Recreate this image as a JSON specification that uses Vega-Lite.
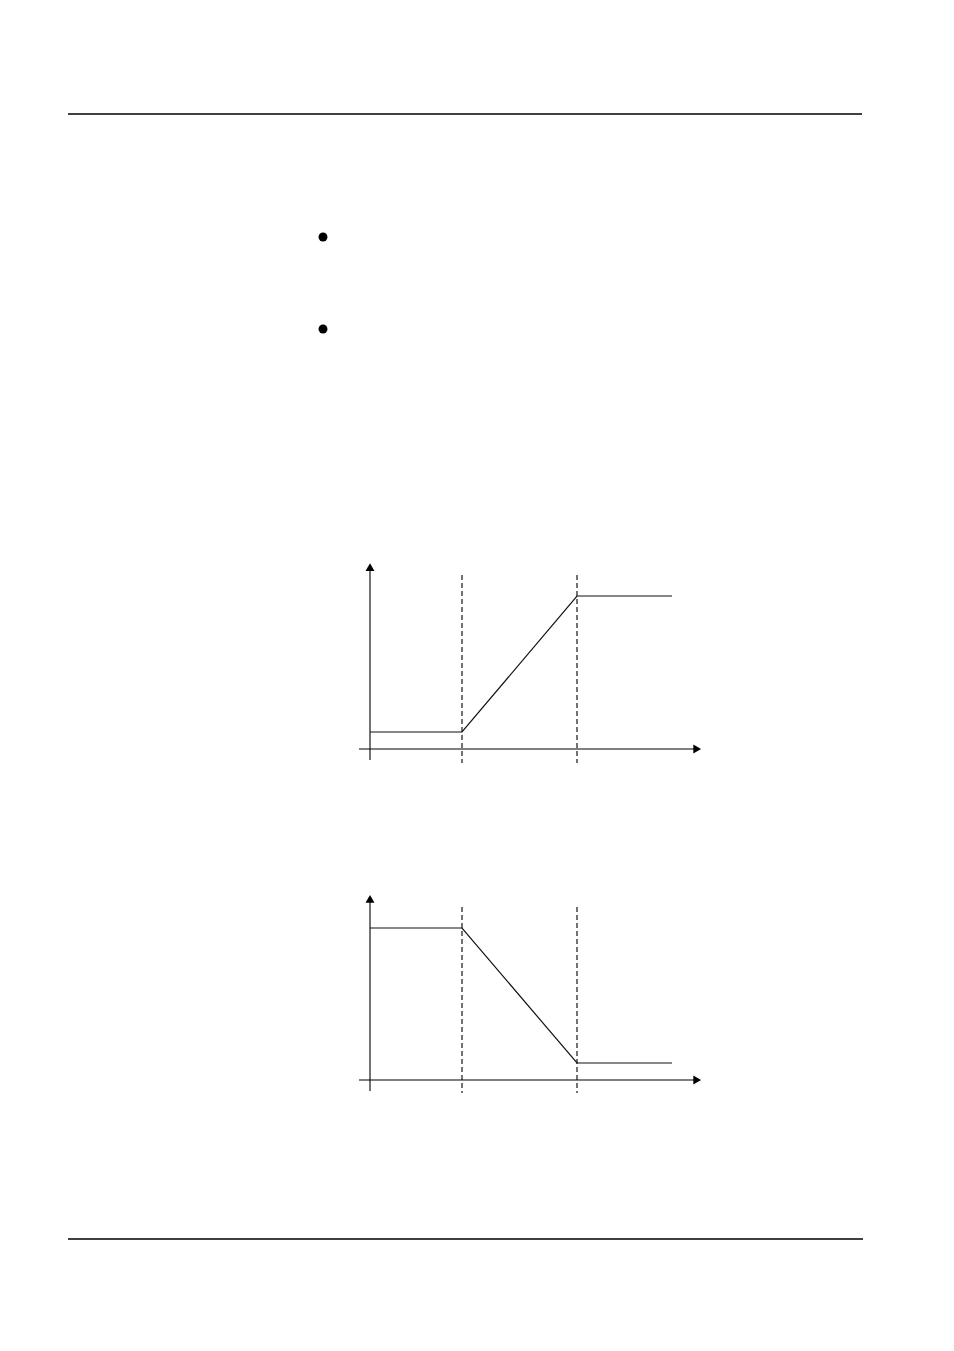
{
  "$schema": "https://vega.github.io/schema/vega-lite/v6.json",
  "width": 954,
  "height": 1351,
  "autosize": {"type": "fit", "contains": "padding"},
  "padding": 0,
  "background": "#ffffff",
  "datasets": {
    "segments": [
      {"part": "header", "kind": "solid", "x": 68, "y": 114, "x2": 862, "y2": 114},
      {"part": "footer", "kind": "solid", "x": 68, "y": 1239, "x2": 863, "y2": 1239},
      {"part": "chart1 y axis", "kind": "axis", "x": 370, "y": 568, "x2": 370, "y2": 760},
      {"part": "chart1 x axis", "kind": "axis", "x": 359, "y": 749, "x2": 695, "y2": 749},
      {"part": "chart1 t1", "kind": "dashed", "x": 462, "y": 575, "x2": 462, "y2": 763},
      {"part": "chart1 t2", "kind": "dashed", "x": 577, "y": 575, "x2": 577, "y2": 763},
      {"part": "chart2 y axis", "kind": "axis", "x": 370, "y": 900, "x2": 370, "y2": 1091},
      {"part": "chart2 x axis", "kind": "axis", "x": 359, "y": 1080, "x2": 695, "y2": 1080},
      {"part": "chart2 t1", "kind": "dashed", "x": 462, "y": 907, "x2": 462, "y2": 1093},
      {"part": "chart2 t2", "kind": "dashed", "x": 577, "y": 907, "x2": 577, "y2": 1093}
    ],
    "curves": [
      {"chart": "rising", "step": 1, "x": 370, "y": 732},
      {"chart": "rising", "step": 2, "x": 462, "y": 732},
      {"chart": "rising", "step": 3, "x": 577, "y": 596},
      {"chart": "rising", "step": 4, "x": 672, "y": 596},
      {"chart": "falling", "step": 1, "x": 370, "y": 928},
      {"chart": "falling", "step": 2, "x": 462, "y": 928},
      {"chart": "falling", "step": 3, "x": 577, "y": 1063},
      {"chart": "falling", "step": 4, "x": 672, "y": 1063}
    ],
    "arrows": [
      {"chart": "rising", "shape": "triangle-up", "x": 370, "y": 567.2},
      {"chart": "rising", "shape": "triangle-right", "x": 697.2, "y": 749},
      {"chart": "falling", "shape": "triangle-up", "x": 370, "y": 898.8},
      {"chart": "falling", "shape": "triangle-right", "x": 697.2, "y": 1080}
    ],
    "bullets": [
      {"item": 1, "x": 323, "y": 237},
      {"item": 2, "x": 323, "y": 329}
    ]
  },
  "encoding": {
    "x": {"type": "quantitative", "field": "x", "scale": {"domain": [0, 954], "nice": false, "zero": false}, "axis": null},
    "y": {"type": "quantitative", "field": "y", "scale": {"domain": [0, 1351], "nice": false, "zero": false, "reverse": true}, "axis": null}
  },
  "layer": [
    {
      "data": {"name": "segments"},
      "transform": [{"filter": "datum.kind == 'solid'"}],
      "mark": {"type": "rule", "color": "#000000", "strokeWidth": 1.3},
      "encoding": {"x2": {"field": "x2"}, "y2": {"field": "y2"}}
    },
    {
      "data": {"name": "segments"},
      "transform": [{"filter": "datum.kind == 'axis'"}],
      "mark": {"type": "rule", "color": "#000000", "strokeWidth": 1.1},
      "encoding": {"x2": {"field": "x2"}, "y2": {"field": "y2"}}
    },
    {
      "data": {"name": "segments"},
      "transform": [{"filter": "datum.kind == 'dashed'"}],
      "mark": {"type": "rule", "color": "#000000", "strokeWidth": 1.1, "strokeDash": [5, 3]},
      "encoding": {"x2": {"field": "x2"}, "y2": {"field": "y2"}}
    },
    {
      "data": {"name": "curves"},
      "mark": {"type": "line", "color": "#111111", "strokeWidth": 1.2},
      "encoding": {
        "detail": {"field": "chart"},
        "order": {"field": "step", "type": "quantitative"}
      }
    },
    {
      "data": {"name": "arrows"},
      "mark": {"type": "point", "filled": true, "color": "#000000", "size": 80, "opacity": 1},
      "encoding": {"shape": {"field": "shape", "type": "nominal", "scale": null}}
    },
    {
      "data": {"name": "bullets"},
      "mark": {"type": "circle", "color": "#000000", "size": 80, "opacity": 1}
    }
  ],
  "config": {"view": {"stroke": null}}
}
